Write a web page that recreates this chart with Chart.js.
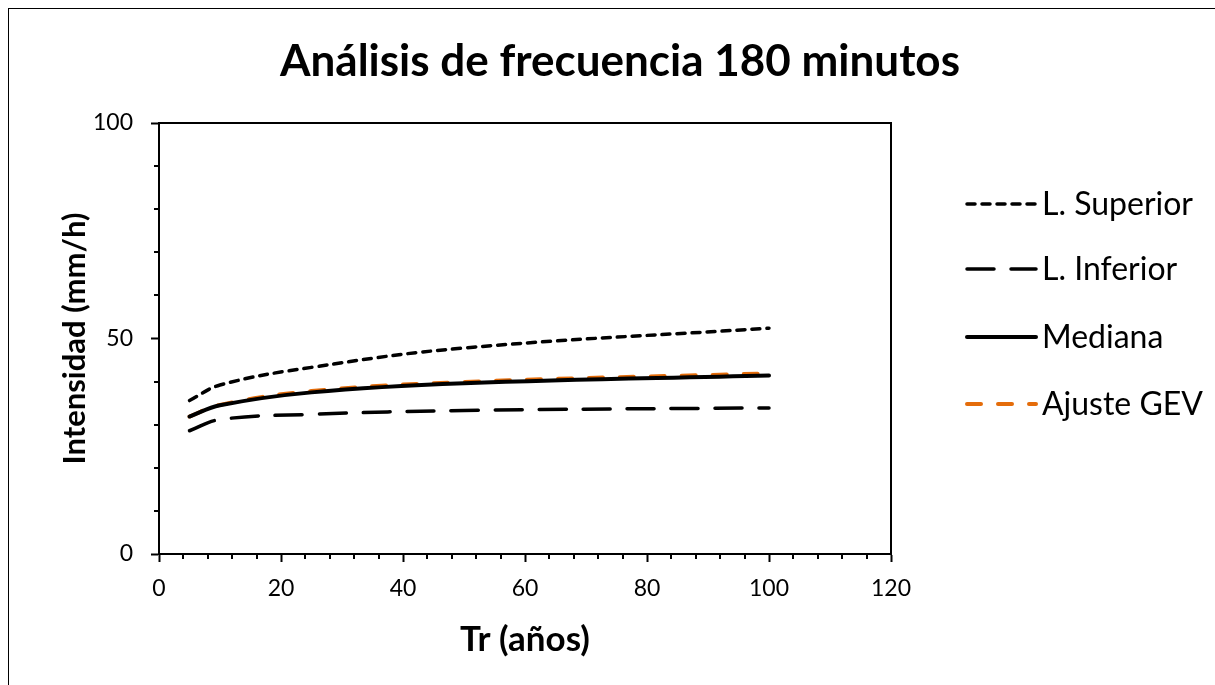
<!DOCTYPE html>
<html>
<head>
<meta charset="utf-8">
<script src="https://cdn.jsdelivr.net/npm/chart.js@4.4.1/dist/chart.umd.min.js"></script>
<style>
  html, body { margin: 0; padding: 0; background: #fff; }
  #wrap { position: relative; width: 1215px; height: 685px; }
  #frame { position: absolute; left: 8px; top: 8px; width: 1215px; height: 700px; border: 1px solid #000; box-sizing: border-box; }
  canvas { position: absolute; left: 0; top: 0; }
</style>
</head>
<body>
<div id="wrap">
  <div id="frame"></div>
  <canvas id="chart" width="1215" height="685"></canvas>
</div>
<script>
const TR_YEARS = [5, 10, 25, 50, 100];
const L_SUPERIOR = [35.6, 39.2, 43.3, 47.8, 52.4];
const L_INFERIOR = [28.6, 31.2, 32.4, 33.3, 33.9];
const MEDIANA = [31.9, 34.5, 37.5, 39.6, 41.4];
const AJUSTE_GEV = [31.9, 34.6, 37.8, 39.9, 41.9];

const X_TICKS = [0, 20, 40, 60, 80, 100, 120];
const Y_TICKS = [0, 50, 100];

const TITLE = 'Análisis de frecuencia 180 minutos';
const FONT = 'Lato, "Open Sans", sans-serif';
const ORANGE = '#E46C0A';

function toPoints(values) {
  return TR_YEARS.map((tr, i) => ({ x: tr, y: values[i] }));
}

function series(label, values, color, dash, width) {
  return {
    label: label,
    data: toPoints(values),
    borderColor: color,
    backgroundColor: color,
    borderWidth: width,
    borderDash: dash,
    borderCapStyle: 'round',
    showLine: true,
    pointRadius: 0,
    tension: 0.4,
    fill: false,
  };
}

// title, minor ticks, plot box, legend
const extrasPlugin = {
  id: 'extras',
  afterDraw(chart) {
    const { ctx, chartArea: a, scales: { x, y } } = chart;
    ctx.save();

    ctx.fillStyle = '#000';
    ctx.font = 'bold 44px ' + FONT;
    ctx.textAlign = 'center';
    ctx.textBaseline = 'middle';
    ctx.fillText(TITLE, 620, 62);

    ctx.strokeStyle = '#000';
    ctx.lineWidth = 2;
    ctx.beginPath();
    ctx.moveTo(a.left, a.top);
    ctx.lineTo(a.right, a.top);
    ctx.lineTo(a.right, a.bottom);
    ctx.stroke();

    ctx.beginPath();
    for (let v = 0; v <= 120; v += 4) {
      if (v % 20 === 0) continue;
      const px = Math.round(x.getPixelForValue(v));
      ctx.moveTo(px, a.bottom);
      ctx.lineTo(px, a.bottom + 5);
    }
    for (let v = 0; v <= 100; v += 10) {
      if (v % 50 === 0) continue;
      const py = Math.round(y.getPixelForValue(v));
      ctx.moveTo(a.left - 5, py);
      ctx.lineTo(a.left, py);
    }
    ctx.stroke();

    // legend
    const rows = [204, 269, 337, 404];
    chart.data.datasets.forEach((ds, i) => {
      const yy = rows[i];
      ctx.strokeStyle = ds.borderColor;
      ctx.lineWidth = ds.borderWidth;
      ctx.lineCap = 'round';
      ctx.setLineDash(ds.borderDash || []);
      ctx.beginPath();
      ctx.moveTo(967, yy);
      ctx.lineTo(1036, yy);
      ctx.stroke();
      ctx.setLineDash([]);
      ctx.fillStyle = '#000';
      ctx.font = '32px ' + FONT;
      ctx.textBaseline = 'middle';
      ctx.textAlign = 'left';
      ctx.fillText(ds.label, 1042, yy + 1);
    });
    ctx.restore();
  },
};

new Chart(document.getElementById('chart'), {
  type: 'scatter',
  data: {
    datasets: [
      series('L. Superior', L_SUPERIOR, '#000', [8, 7], 3.5),
      series('L. Inferior', L_INFERIOR, '#000', [27, 17], 3.5),
      series('Mediana', MEDIANA, '#000', [], 4),
      series('Ajuste GEV', AJUSTE_GEV, ORANGE, [14, 17], 4),
    ],
  },
  options: {
    responsive: false,
    animation: false,
    layout: { padding: { left: 0, right: 324, top: 123, bottom: 0 } },
    plugins: {
      legend: { display: false },
      tooltip: { enabled: false },
      title: { display: false },
    },
    scales: {
      x: {
        type: 'linear',
        min: 0,
        max: 120,
        afterBuildTicks(scale) {
          scale.ticks = X_TICKS.map((v) => ({ value: v }));
        },
        afterFit(scale) {
          scale.height = 131;
        },
        ticks: {
          color: '#000',
          font: { family: FONT, size: 23 },
          padding: 13,
        },
        grid: { drawOnChartArea: false, drawTicks: true, tickLength: 8, tickWidth: 2, tickColor: '#000' },
        border: { display: true, color: '#000', width: 2 },
        title: {
          display: true,
          text: 'Tr (años)',
          color: '#000',
          font: { family: FONT, size: 35, weight: 'bold' },
          padding: { top: 0, bottom: 24 },
        },
      },
      y: {
        type: 'linear',
        min: 0,
        max: 100,
        afterBuildTicks(scale) {
          scale.ticks = Y_TICKS.map((v) => ({ value: v }));
        },
        afterFit(scale) {
          scale.width = 159;
        },
        ticks: {
          color: '#000',
          font: { family: FONT, size: 23 },
          padding: 18,
        },
        grid: { drawOnChartArea: false, drawTicks: true, tickLength: 8, tickWidth: 2, tickColor: '#000' },
        border: { display: true, color: '#000', width: 2 },
        title: {
          display: true,
          text: 'Intensidad (mm/h)',
          color: '#000',
          font: { family: FONT, size: 31, weight: 'bold' },
          padding: { top: 56, bottom: 0 },
        },
      },
    },
  },
  plugins: [extrasPlugin],
});
</script>
</body>
</html>
